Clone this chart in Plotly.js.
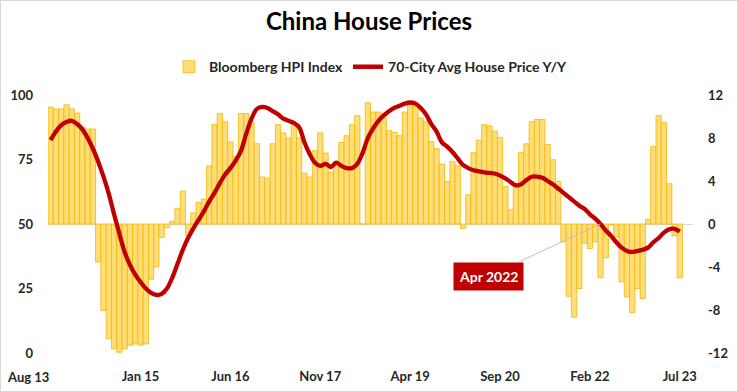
<!DOCTYPE html>
<html>
<head>
<meta charset="utf-8">
<script src="https://cdn.plot.ly/plotly-3.0.1.min.js"></script>
<style>
  html, body { margin: 0; padding: 0; background: #fff; }
  #wrap { position: relative; width: 738px; height: 392px; }
  #chart { width: 738px; height: 392px; }
  #frame { position: absolute; left: 0; top: 0; width: 736px; height: 390px; border: 1px solid #D9D9D9; pointer-events: none; }
</style>
</head>
<body>
<div id="wrap"><div id="chart"></div><div id="frame"></div></div>
<script>
// Monthly series, Aug 2013 .. Jul 2023 (120 months)
const startYear = 2013, startMonth = 8, nMonths = 120;

// Bloomberg HPI Index (left axis, bars drawn from 50)
const hpiIndex = [
  95.3, 94.6, 94.6, 96.2, 94.6, 93.0, 87.6, 86.8, 86.8,
  35.3, 16.5, 5.5, 1.6, 0.3, 1.6, 3.0, 3.5, 3.0, 3.5,
  28.6, 33.4, 44.8, 48.5, 51.0, 56.1, 62.8, 45.5, 54.3, 58.3, 59.7,
  72.5, 88.5, 92.8, 89.6, 81.8, 76.0, 92.8, 92.8, 89.3, 81.1,
  68.2, 67.8, 81.1, 88.5, 85.3, 83.3, 88.5, 83.3, 69.7, 68.2,
  78.4, 85.3, 77.5, 70.0, 74.3, 81.6, 84.2, 88.5, 92.0, 50.0,
  97.0, 93.4, 93.4, 91.1, 86.2, 85.5, 84.2, 93.4, 97.0, 95.7,
  91.1, 89.8, 82.0, 79.2, 73.2, 66.5, 74.2, 72.6, 48.3, 61.3,
  77.6, 82.5, 88.5, 88.0, 86.0, 83.5, 64.5, 55.5, 64.3, 77.8,
  81.1, 89.6, 90.5, 90.5, 80.8, 74.9, 66.5, 43.1, 22.0, 13.9,
  25.0, 42.5, 40.5, 43.1, 29.2, 36.9, 49.6, 45.0, 27.6, 21.7,
  15.6, 25.0, 21.1, 51.8, 80.0, 92.0, 89.4, 65.6, 45.5, 29.1
];

// 70-City Avg House Price Y/Y (right axis, %)
const cityYoY = [
  7.8, 8.6, 9.2, 9.5, 9.6, 9.3, 8.8, 8.0, 7.0, 5.8,
  4.4, 2.8, 0.9, -0.9, -2.6, -3.8, -4.7, -5.4, -6.0, -6.4,
  -6.6, -6.5, -6.0, -5.0, -3.7, -2.4, -1.3, -0.4, 0.4, 1.2,
  2.1, 2.9, 3.8, 4.6, 5.2, 5.9, 6.8, 8.4, 9.8, 10.7,
  10.9, 10.8, 10.5, 10.2, 9.8, 9.6, 9.4, 9.0, 7.6, 6.5,
  5.7, 5.4, 5.6, 5.3, 5.7, 5.4, 5.2, 5.2, 5.6, 6.6,
  8.0, 8.9, 9.6, 10.1, 10.5, 10.8, 11.0, 11.2, 11.3, 11.2,
  10.8, 10.2, 9.3, 8.6, 7.6, 7.2, 6.7, 6.1, 5.5, 5.2,
  5.0, 4.9, 4.8, 4.75, 4.7, 4.5, 4.25, 3.9, 3.6, 3.7,
  4.1, 4.4, 4.4, 4.3, 4.0, 3.7, 3.3, 2.9, 2.5, 2.1,
  1.7, 1.4, 0.9, 0.5, 0.0, -0.6, -1.1, -1.7, -2.2, -2.5,
  -2.6, -2.5, -2.4, -2.2, -1.7, -1.3, -0.8, -0.5, -0.45, -0.7
];

const tickCats = ['2013-08','2015-01','2016-06','2017-11','2019-04','2020-09','2022-02','2023-07'];
const tickLabels = ['Aug 13','Jan 15','Jun 16','Nov 17','Apr 19','Sep 20','Feb 22','Jul 23'];
const leftTicks = [0, 25, 50, 75, 100];
const rightTicks = [-12, -8, -4, 0, 4, 8, 12];
const calloutCat = '2022-04';
const calloutText = 'Apr 2022';
const hpiBase = 50;

const months = [];
for (let i = 0; i < nMonths; i++) {
  const d = new Date(startYear, startMonth - 1 + i, 1);
  months.push(d.getFullYear() + '-' + String(d.getMonth() + 1).padStart(2, '0'));
}

const FONT = 'Lato, "Open Sans", sans-serif';
const TXT = '#262626';

const traces = [
  {
    type: 'bar',
    name: 'Bloomberg HPI Index',
    x: months,
    y: hpiIndex.map(v => v - hpiBase),
    base: hpiBase,
    marker: { color: '#FFDE7A', line: { color: '#F5B800', width: 0.8 } },
    yaxis: 'y',
    hoverinfo: 'skip'
  },
  {
    type: 'scatter',
    mode: 'lines',
    name: '70-City Avg House Price Y/Y',
    x: months,
    y: cityYoY,
    line: { color: '#C00000', width: 4.3, shape: 'spline', smoothing: 1 },
    yaxis: 'y2',
    hoverinfo: 'skip'
  }
];

const calloutIdx = months.indexOf(calloutCat);

const layout = {
  width: 738, height: 392,
  margin: { l: 48, r: 45, t: 95, b: 39 },
  paper_bgcolor: '#fff', plot_bgcolor: '#fff',
  font: { family: FONT, color: TXT },
  title: {
    text: '<b>China House Prices</b>',
    font: { family: FONT, size: 24, color: '#000' },
    x: 0.5, xanchor: 'center', y: 0.944, yanchor: 'middle'
  },
  showlegend: true,
  legend: {
    orientation: 'h', x: 0.5, xanchor: 'center', y: 1.108, yanchor: 'middle',
    font: { family: FONT, size: 14, color: TXT, weight: 'bold' },
    traceorder: 'normal', itemwidth: 30
  },
  bargap: 0,
  xaxis: {
    type: 'category',
    range: [-0.5, nMonths + 1.5],
    tickmode: 'array',
    tickvals: tickCats.slice(1),
    ticktext: tickLabels.slice(1).map(t => '<b>' + t + '</b>'),
    tickfont: { family: FONT, size: 13, color: TXT },
    showgrid: false, zeroline: false, showline: false, ticks: '',
    ticklabelstandoff: 14
  },
  yaxis: {
    range: [0, 100],
    tickvals: leftTicks,
    ticktext: leftTicks.map(t => '<b>' + t + '</b>'),
    tickfont: { family: FONT, size: 13, color: TXT },
    showgrid: false, zeroline: false, showline: false, ticks: '',
    ticklabelstandoff: 14
  },
  yaxis2: {
    overlaying: 'y', side: 'right',
    range: [-12, 12],
    tickvals: rightTicks,
    ticktext: rightTicks.map(t => '<b>' + t + '</b>'),
    tickfont: { family: FONT, size: 13, color: TXT },
    showgrid: false, zeroline: true, zerolinecolor: '#D9D9D9', zerolinewidth: 1,
    showline: false, ticks: '',
    ticklabelstandoff: 14
  },
  annotations: [
    {
      x: tickCats[0], xref: 'x', xanchor: 'right',
      y: 0, yref: 'paper', yanchor: 'top', yshift: -14,
      text: '<b>' + tickLabels[0] + '</b>', showarrow: false,
      font: { family: FONT, size: 13, color: TXT }
    },
    {
      x: calloutCat, xref: 'x', y: cityYoY[calloutIdx], yref: 'y2',
      text: '<b>' + calloutText + '</b>',
      showarrow: true, arrowhead: 0, arrowwidth: 1, arrowcolor: '#BFBFBF',
      ax: -112, ay: 52,
      bgcolor: '#C00000', borderpad: 5,
      font: { family: FONT, size: 14, color: '#fff' }
    }
  ]
};

Plotly.newPlot('chart', traces, layout, { displayModeBar: false, staticPlot: true });
</script>
</body>
</html>
